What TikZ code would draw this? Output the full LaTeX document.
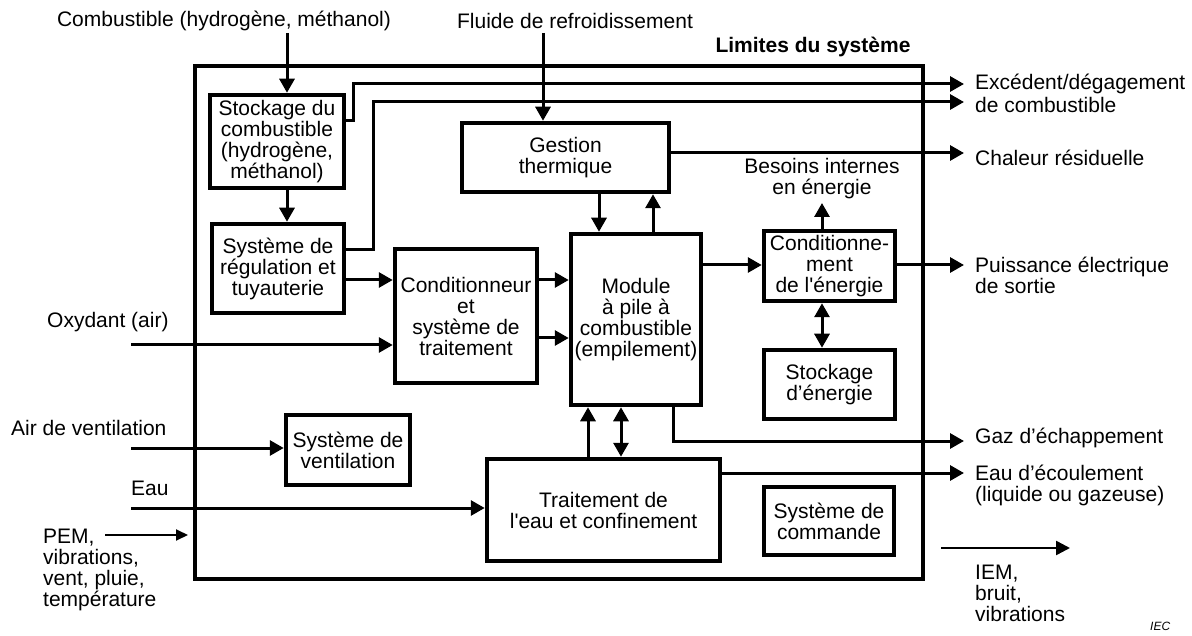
\documentclass[tikz,border=0pt]{standalone}
\usepackage{fontspec}
\setmainfont{Liberation Sans}[Ligatures=TeXOff]
\usetikzlibrary{arrows.meta}
\begin{document}
\begin{tikzpicture}[x=1pt,y=-1pt,
  every node/.style={font=\fontsize{21}{21}\selectfont},
  box/.style={draw, line width=4.5pt, align=center, inner sep=0pt},
  lbl/.style={align=left, anchor=west, inner sep=0pt},
  ctr/.style={align=center, inner sep=0pt},
  arr/.style={line width=3pt, -{Triangle[length=14pt,width=15pt]}},
  biarr/.style={line width=3pt, {Triangle[length=14pt,width=15pt]}-{Triangle[length=14pt,width=15pt]}},
  thinarr/.style={line width=2pt, -{Triangle[length=12pt,width=11pt]}}]
\useasboundingbox (0,0) rectangle (1192,636);
\fill[white] (0,0) rectangle (1192,636);

% system boundary
\draw[line width=4pt] (195,66) rectangle (923,579);
\node[ctr, font=\fontsize{21}{21}\selectfont\bfseries] (lim) at (813,47) {Limites du système};

% boxes
\node[box, minimum width=134pt, minimum height=93pt] (stock) at (277,141.5) {Stockage du\\combustible\\(hydrogène,\\méthanol)};
\node[box, minimum width=132pt, minimum height=89pt] (reg) at (278,268.5) {Système de\\régulation et\\tuyauterie};
\node[box, minimum width=207pt, minimum height=69pt] (gest) at (565.5,157.5) {Gestion\\thermique};
\node[box, minimum width=142pt, minimum height=134pt] (cond) at (466,316) {Conditionneur\\et\\système de\\traitement};
\node[box, minimum width=130pt, minimum height=171pt] (mod) at (636,319.5) {Module\\à pile à\\combustible\\(empilement)};
\node[box, minimum width=131pt, minimum height=70pt] (pc) at (829.5,266) {Conditionne-\\ment\\de l'énergie};
\node[box, minimum width=131pt, minimum height=69pt] (se) at (829.5,384.5) {Stockage\\d’énergie};
\node[box, minimum width=124pt, minimum height=70pt] (vent) at (348,450) {Système de\\ventilation};
\node[box, minimum width=233pt, minimum height=102pt] (eau) at (603.5,510) {Traitement de\\l'eau et confinement};
\node[box, minimum width=130pt, minimum height=68pt] (cmd) at (829,521) {Système de\\commande};

% outside labels
\node[ctr] (fuel) at (224,21) {Combustible (hydrogène, méthanol)};
\node[ctr] (cool) at (575,21) {Fluide de refroidissement};
\node[lbl] (exc) at (975,93) {Excédent/dégagement\\[2pt]de combustible};
\node[lbl] (chal) at (975,158) {Chaleur résiduelle};
\node[ctr] (bes) at (822,179) {Besoins internes\\en énergie};
\node[lbl] (pui) at (975,275) {Puissance électrique\\de sortie};
\node[lbl] (gaz) at (975,438) {Gaz d’échappement};
\node[lbl] (ecl) at (975,485) {Eau d’écoulement\\(liquide ou gazeuse)};
\node[lbl] (iem) at (975,593) {IEM,\\bruit,\\vibrations};
\node[lbl] (oxy) at (47,322) {Oxydant (air)};
\node[lbl] (air) at (11,428) {Air de ventilation};
\node[lbl] (eauin) at (131,488) {Eau};
\node[lbl] (pem) at (43,570) {PEM,\\vibrations,\\vent, pluie,\\température};
\node[lbl, font=\fontsize{12}{12}\selectfont\itshape] (iec) at (1150,626) {IEC};

% free-end coordinates
\coordinate (fuelin) at (287,33);
\coordinate (coolin) at (543,33);
\coordinate (out1) at (964,84);
\coordinate (out2) at (964,102);
\coordinate (outch) at (964,153);
\coordinate (outpui) at (964,265);
\coordinate (outgaz) at (964,441);
\coordinate (outeau) at (964,473);
\coordinate (oxyin) at (131,345);
\coordinate (airin) at (131,448);
\coordinate (eauinp) at (131,508);
\coordinate (pemA) at (105,535);
\coordinate (pemB) at (188,535);
\coordinate (iemA) at (941,548);
\coordinate (iemB) at (1070,548);
\coordinate (besA) at (822,203);

% connectors
\draw[arr] (fuelin) -- (stock.north -| fuelin);
\draw[arr] (stock.south -| fuelin) -- (reg.north -| fuelin);
\draw[arr] (coolin) -- (gest.north -| coolin);
\draw[arr] (stock.east |- 0,121) -- (353,121) -- (353,84) -- (out1);
\draw[arr] (reg.east |- 0,250) -- (373,250) -- (373,102) -- (out2);
\draw[arr] (gest.east |- 0,153) -- (outch);
\draw[arr] (reg.east |- 0,280) -- (cond.west |- 0,280);
\draw[arr] (cond.east |- 0,280) -- (mod.west |- 0,280);
\draw[arr] (cond.east |- 0,338) -- (mod.west |- 0,338);
\draw[arr] (oxyin) -- (cond.west |- oxyin);
\draw[arr] (gest.south -| 599,0) -- (mod.north -| 599,0);
\draw[arr] (mod.north -| 653,0) -- (gest.south -| 653,0);
\draw[arr] (mod.east |- 0,265) -- (pc.west |- 0,265);
\draw[arr] (pc.east |- 0,265) -- (outpui);
\draw[arr] (pc.north -| besA) -- (besA);
\draw[biarr] (pc.south -| besA) -- (se.north -| besA);
\draw[arr] (mod.south -| 673,0) -- (673,441) -- (outgaz);
\draw[arr] (eau.east |- outeau) -- (outeau);
\draw[arr] (eau.north -| 588,0) -- (mod.south -| 588,0);
\draw[biarr] (eau.north -| 621,0) -- (mod.south -| 621,0);
\draw[arr] (airin) -- (vent.west |- airin);
\draw[arr] (eauinp) -- (eau.west |- eauinp);
\draw[thinarr] (pemA) -- (pemB);
\draw[line width=2.5pt, -{Triangle[length=14pt,width=14pt]}] (iemA) -- (iemB);
\end{tikzpicture}
\end{document}
